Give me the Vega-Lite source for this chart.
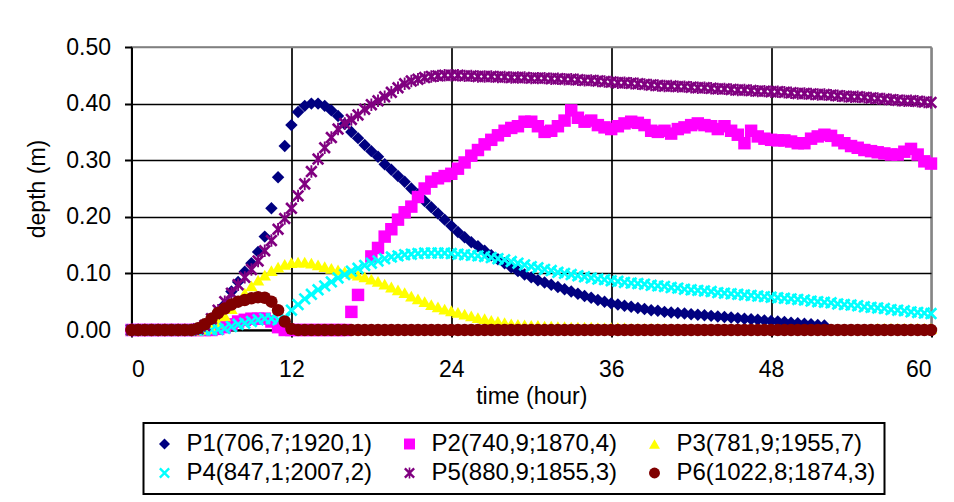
{
"$schema": "https://vega.github.io/schema/vega-lite/v6.json",
"width": 799.5, "height": 283,
"autosize": {"type": "none"},
"padding": {"left": 131.5, "top": 47, "right": 23, "bottom": 172},
"background": "white",
"config": {
 "font": "Liberation Sans",
 "view": {"stroke": "#808080", "strokeWidth": 1.5},
 "axis": {"labelFont": "Liberation Sans", "titleFont": "Liberation Sans", "labelFontSize": 23, "titleFontSize": 23, "titleFontWeight": "normal", "labelColor": "black", "titleColor": "black", "tickColor": "black", "tickWidth": 2, "tickSize": 7, "domainColor": "black", "domainWidth": 2, "gridWidth": 1.7, "gridOpacity": 1},
 "legend": {"orient": "none", "direction": "horizontal", "legendX": 12, "legendY": 376, "columns": 3, "labelFont": "Liberation Sans", "labelFontSize": 24, "labelColor": "black", "symbolSize": 120, "symbolStrokeWidth": 0, "strokeColor": "black", "strokeWidth": 2, "padding": 9, "rowPadding": 5, "columnPadding": 25, "labelOffset": 10, "labelLimit": 400, "fillColor": "white"}
},
"datasets": {"names": [
 {"k": "P1", "name": "P1(706,7;1920,1)"},
 {"k": "P2", "name": "P2(740,9;1870,4)"},
 {"k": "P3", "name": "P3(781,9;1955,7)"},
 {"k": "P4", "name": "P4(847,1;2007,2)"},
 {"k": "P5", "name": "P5(880,9;1855,3)"},
 {"k": "P6", "name": "P6(1022,8;1874,3)"}
]},
"data": {"values": [
{"t":0,"P1":0,"P2":0,"P3":0,"P4":0,"P5":0,"P6":0},
{"t":0.5,"P1":0,"P2":0,"P3":0,"P4":0,"P5":0,"P6":0},
{"t":1,"P1":0,"P2":0,"P3":0,"P4":0,"P5":0,"P6":0},
{"t":1.5,"P1":0,"P2":0,"P3":0,"P4":0,"P5":0,"P6":0},
{"t":2,"P1":0,"P2":0,"P3":0,"P4":0,"P5":0,"P6":0},
{"t":2.5,"P1":0,"P2":0,"P3":0,"P4":0,"P5":0,"P6":0},
{"t":3,"P1":0,"P2":0,"P3":0,"P4":0,"P5":0,"P6":0},
{"t":3.5,"P1":0,"P2":0,"P3":0,"P4":0,"P5":0,"P6":0},
{"t":4,"P1":0,"P2":0,"P3":0,"P4":0,"P5":0,"P6":0},
{"t":4.5,"P1":0,"P2":0,"P3":0,"P4":0,"P5":0,"P6":0},
{"t":5,"P1":0,"P2":0,"P3":0,"P4":0,"P5":0.002,"P6":0.003},
{"t":5.5,"P1":0.003,"P2":0,"P3":0.001,"P4":0,"P5":0.008,"P6":0.01},
{"t":6,"P1":0.01,"P2":0,"P3":0.003,"P4":0,"P5":0.02,"P6":0.02},
{"t":6.5,"P1":0.025,"P2":0.002,"P3":0.012,"P4":0.001,"P5":0.035,"P6":0.03},
{"t":7,"P1":0.045,"P2":0.005,"P3":0.025,"P4":0.003,"P5":0.05,"P6":0.038},
{"t":7.5,"P1":0.068,"P2":0.01,"P3":0.038,"P4":0.006,"P5":0.065,"P6":0.045},
{"t":8,"P1":0.085,"P2":0.015,"P3":0.052,"P4":0.01,"P5":0.08,"P6":0.05},
{"t":8.5,"P1":0.103,"P2":0.018,"P3":0.065,"P4":0.012,"P5":0.093,"P6":0.053},
{"t":9,"P1":0.118,"P2":0.02,"P3":0.078,"P4":0.015,"P5":0.107,"P6":0.056},
{"t":9.5,"P1":0.138,"P2":0.02,"P3":0.088,"P4":0.018,"P5":0.122,"P6":0.058},
{"t":10,"P1":0.165,"P2":0.02,"P3":0.097,"P4":0.02,"P5":0.14,"P6":0.057},
{"t":10.5,"P1":0.215,"P2":0.015,"P3":0.105,"P4":0.02,"P5":0.158,"P6":0.05},
{"t":11,"P1":0.27,"P2":0.005,"P3":0.111,"P4":0.018,"P5":0.178,"P6":0.035},
{"t":11.5,"P1":0.325,"P2":0,"P3":0.116,"P4":0.02,"P5":0.197,"P6":0.015},
{"t":12,"P1":0.362,"P2":0,"P3":0.119,"P4":0.035,"P5":0.215,"P6":0.002},
{"t":12.5,"P1":0.385,"P2":0,"P3":0.12,"P4":0.045,"P5":0.237,"P6":0},
{"t":13,"P1":0.396,"P2":0,"P3":0.12,"P4":0.055,"P5":0.258,"P6":0},
{"t":13.5,"P1":0.4,"P2":0,"P3":0.118,"P4":0.063,"P5":0.28,"P6":0},
{"t":14,"P1":0.4,"P2":0,"P3":0.115,"P4":0.071,"P5":0.302,"P6":0},
{"t":14.5,"P1":0.396,"P2":0,"P3":0.112,"P4":0.078,"P5":0.322,"P6":0},
{"t":15,"P1":0.388,"P2":0,"P3":0.109,"P4":0.085,"P5":0.34,"P6":0},
{"t":15.5,"P1":0.378,"P2":0,"P3":0.106,"P4":0.092,"P5":0.355,"P6":0},
{"t":16,"P1":0.364,"P2":0,"P3":0.103,"P4":0.098,"P5":0.365,"P6":0},
{"t":16.5,"P1":0.35,"P2":0.032,"P3":0.1,"P4":0.104,"P5":0.372,"P6":0},
{"t":17,"P1":0.339,"P2":0.062,"P3":0.097,"P4":0.109,"P5":0.38,"P6":0},
{"t":17.5,"P1":0.327,"P2":null,"P3":0.094,"P4":0.114,"P5":0.39,"P6":0},
{"t":18,"P1":0.316,"P2":0.13,"P3":0.09,"P4":0.118,"P5":0.398,"P6":0},
{"t":18.5,"P1":0.306,"P2":0.145,"P3":0.086,"P4":0.122,"P5":0.405,"P6":0},
{"t":19,"P1":0.293,"P2":0.165,"P3":0.081,"P4":0.126,"P5":0.412,"P6":0},
{"t":19.5,"P1":0.283,"P2":0.178,"P3":0.076,"P4":0.129,"P5":0.42,"P6":0},
{"t":20,"P1":0.272,"P2":0.195,"P3":0.071,"P4":0.131,"P5":0.428,"P6":0},
{"t":20.5,"P1":0.262,"P2":0.208,"P3":0.066,"P4":0.133,"P5":0.435,"P6":0},
{"t":21,"P1":0.25,"P2":0.218,"P3":0.06,"P4":0.134,"P5":0.44,"P6":0},
{"t":21.5,"P1":0.24,"P2":0.235,"P3":0.055,"P4":0.135,"P5":0.443,"P6":0},
{"t":22,"P1":0.228,"P2":0.25,"P3":0.05,"P4":0.136,"P5":0.446,"P6":0},
{"t":22.5,"P1":0.217,"P2":0.262,"P3":0.045,"P4":0.136,"P5":0.448,"P6":0},
{"t":23,"P1":0.206,"P2":0.268,"P3":0.041,"P4":0.136,"P5":0.449,"P6":0},
{"t":23.5,"P1":0.195,"P2":0.272,"P3":0.037,"P4":0.136,"P5":0.45,"P6":0},
{"t":24,"P1":0.184,"P2":0.276,"P3":0.034,"P4":0.135,"P5":0.45,"P6":0},
{"t":24.5,"P1":0.173,"P2":0.285,"P3":0.031,"P4":0.134,"P5":0.45,"P6":0},
{"t":25,"P1":0.164,"P2":0.296,"P3":0.028,"P4":0.133,"P5":0.449,"P6":0},
{"t":25.5,"P1":0.155,"P2":0.308,"P3":0.025,"P4":0.132,"P5":0.449,"P6":0},
{"t":26,"P1":0.148,"P2":0.318,"P3":0.022,"P4":0.131,"P5":0.448,"P6":0},
{"t":26.5,"P1":0.14,"P2":0.328,"P3":0.02,"P4":0.13,"P5":0.448,"P6":0},
{"t":27,"P1":0.132,"P2":0.336,"P3":0.017,"P4":0.128,"P5":0.448,"P6":0},
{"t":27.5,"P1":0.125,"P2":0.344,"P3":0.015,"P4":0.126,"P5":0.447,"P6":0},
{"t":28,"P1":0.118,"P2":0.352,"P3":0.013,"P4":0.124,"P5":0.447,"P6":0},
{"t":28.5,"P1":0.111,"P2":0.357,"P3":0.011,"P4":0.121,"P5":0.446,"P6":0},
{"t":29,"P1":0.104,"P2":0.36,"P3":0.01,"P4":0.118,"P5":0.446,"P6":0},
{"t":29.5,"P1":0.098,"P2":0.368,"P3":0.009,"P4":0.115,"P5":0.446,"P6":0},
{"t":30,"P1":0.093,"P2":0.368,"P3":0.008,"P4":0.112,"P5":0.445,"P6":0},
{"t":30.5,"P1":0.088,"P2":0.36,"P3":0.008,"P4":0.11,"P5":0.445,"P6":0},
{"t":31,"P1":0.084,"P2":0.35,"P3":0.007,"P4":0.107,"P5":0.445,"P6":0},
{"t":31.5,"P1":0.08,"P2":0.352,"P3":0.007,"P4":0.105,"P5":0.444,"P6":0},
{"t":32,"P1":0.076,"P2":0.36,"P3":0.006,"P4":0.102,"P5":0.444,"P6":0},
{"t":32.5,"P1":0.072,"P2":0.37,"P3":0.006,"P4":0.1,"P5":0.443,"P6":0},
{"t":33,"P1":0.068,"P2":0.388,"P3":0.005,"P4":0.098,"P5":0.443,"P6":0},
{"t":33.5,"P1":0.064,"P2":0.375,"P3":0.005,"P4":0.096,"P5":0.442,"P6":0},
{"t":34,"P1":0.06,"P2":0.368,"P3":0.005,"P4":0.094,"P5":0.441,"P6":0},
{"t":34.5,"P1":0.057,"P2":0.37,"P3":0.005,"P4":0.092,"P5":0.441,"P6":0},
{"t":35,"P1":0.053,"P2":0.362,"P3":0.004,"P4":0.09,"P5":0.44,"P6":0},
{"t":35.5,"P1":0.05,"P2":0.358,"P3":0.004,"P4":0.089,"P5":0.439,"P6":0},
{"t":36,"P1":0.047,"P2":0.355,"P3":0.004,"P4":0.087,"P5":0.438,"P6":0},
{"t":36.5,"P1":0.045,"P2":0.36,"P3":0.004,"P4":0.086,"P5":0.437,"P6":0},
{"t":37,"P1":0.043,"P2":0.365,"P3":0.004,"P4":0.084,"P5":0.437,"P6":0},
{"t":37.5,"P1":0.041,"P2":0.368,"P3":0.003,"P4":0.083,"P5":0.436,"P6":0},
{"t":38,"P1":0.039,"P2":0.366,"P3":0.003,"P4":0.082,"P5":0.435,"P6":0},
{"t":38.5,"P1":0.037,"P2":0.362,"P3":0.003,"P4":0.081,"P5":0.434,"P6":0},
{"t":39,"P1":0.035,"P2":0.352,"P3":0.003,"P4":0.079,"P5":0.433,"P6":0},
{"t":39.5,"P1":0.034,"P2":0.35,"P3":0.003,"P4":0.078,"P5":0.432,"P6":0},
{"t":40,"P1":0.032,"P2":0.352,"P3":0.003,"P4":0.077,"P5":0.431,"P6":0},
{"t":40.5,"P1":0.031,"P2":0.347,"P3":0.002,"P4":0.075,"P5":0.431,"P6":0},
{"t":41,"P1":0.03,"P2":0.355,"P3":0.002,"P4":0.074,"P5":0.43,"P6":0},
{"t":41.5,"P1":0.029,"P2":0.358,"P3":0.002,"P4":0.072,"P5":0.43,"P6":0},
{"t":42,"P1":0.028,"P2":0.362,"P3":0.002,"P4":0.071,"P5":0.429,"P6":0},
{"t":42.5,"P1":0.027,"P2":0.365,"P3":0.001,"P4":0.07,"P5":0.428,"P6":0},
{"t":43,"P1":0.026,"P2":0.362,"P3":0.001,"P4":0.069,"P5":0.428,"P6":0},
{"t":43.5,"P1":0.025,"P2":0.36,"P3":0.001,"P4":0.068,"P5":0.427,"P6":0},
{"t":44,"P1":0.024,"P2":0.355,"P3":0.001,"P4":0.066,"P5":0.426,"P6":0},
{"t":44.5,"P1":0.023,"P2":0.36,"P3":0.001,"P4":0.065,"P5":0.426,"P6":0},
{"t":45,"P1":0.022,"P2":0.352,"P3":0.001,"P4":0.064,"P5":0.425,"P6":0},
{"t":45.5,"P1":0.021,"P2":0.345,"P3":0.001,"P4":0.063,"P5":0.424,"P6":0},
{"t":46,"P1":0.02,"P2":0.33,"P3":0.001,"P4":0.062,"P5":0.424,"P6":0},
{"t":46.5,"P1":0.019,"P2":0.352,"P3":0.001,"P4":0.061,"P5":0.423,"P6":0},
{"t":47,"P1":0.018,"P2":0.342,"P3":0.001,"P4":0.06,"P5":0.422,"P6":0},
{"t":47.5,"P1":0.017,"P2":0.338,"P3":0.001,"P4":0.059,"P5":0.422,"P6":0},
{"t":48,"P1":0.016,"P2":0.336,"P3":0.001,"P4":0.058,"P5":0.421,"P6":0},
{"t":48.5,"P1":0.015,"P2":0.335,"P3":0.001,"P4":0.057,"P5":0.421,"P6":0},
{"t":49,"P1":0.014,"P2":0.335,"P3":0.001,"P4":0.056,"P5":0.42,"P6":0},
{"t":49.5,"P1":0.013,"P2":0.333,"P3":0.001,"P4":0.055,"P5":0.419,"P6":0},
{"t":50,"P1":0.012,"P2":0.33,"P3":0.001,"P4":0.054,"P5":0.418,"P6":0},
{"t":50.5,"P1":0.011,"P2":0.33,"P3":0.001,"P4":0.053,"P5":0.418,"P6":0},
{"t":51,"P1":0.01,"P2":0.338,"P3":0.001,"P4":0.051,"P5":0.417,"P6":0},
{"t":51.5,"P1":0.009,"P2":0.342,"P3":0.001,"P4":0.05,"P5":0.416,"P6":0},
{"t":52,"P1":0.008,"P2":0.345,"P3":0.001,"P4":0.049,"P5":0.416,"P6":0},
{"t":52.5,"P1":null,"P2":0.343,"P3":0.001,"P4":0.048,"P5":0.415,"P6":0},
{"t":53,"P1":null,"P2":0.335,"P3":0.001,"P4":0.046,"P5":0.414,"P6":0},
{"t":53.5,"P1":null,"P2":0.33,"P3":0.001,"P4":0.045,"P5":0.413,"P6":0},
{"t":54,"P1":null,"P2":0.325,"P3":0.001,"P4":0.044,"P5":0.412,"P6":0},
{"t":54.5,"P1":null,"P2":0.322,"P3":0.001,"P4":0.043,"P5":0.412,"P6":0},
{"t":55,"P1":null,"P2":0.318,"P3":0.001,"P4":0.041,"P5":0.411,"P6":0},
{"t":55.5,"P1":null,"P2":0.316,"P3":0.002,"P4":0.04,"P5":0.41,"P6":0},
{"t":56,"P1":null,"P2":0.314,"P3":0.003,"P4":0.039,"P5":0.409,"P6":0},
{"t":56.5,"P1":null,"P2":0.312,"P3":0.003,"P4":0.038,"P5":0.408,"P6":0},
{"t":57,"P1":null,"P2":0.31,"P3":0.003,"P4":0.036,"P5":0.407,"P6":0},
{"t":57.5,"P1":null,"P2":0.31,"P3":0.003,"P4":0.035,"P5":0.406,"P6":0},
{"t":58,"P1":null,"P2":0.315,"P3":0.003,"P4":0.034,"P5":0.405,"P6":0},
{"t":58.5,"P1":null,"P2":0.32,"P3":0.003,"P4":0.032,"P5":0.405,"P6":0},
{"t":59,"P1":null,"P2":0.31,"P3":0.003,"P4":0.031,"P5":0.404,"P6":0},
{"t":59.5,"P1":null,"P2":0.298,"P3":0.003,"P4":0.03,"P5":0.403,"P6":0},
{"t":60,"P1":null,"P2":0.294,"P3":0.003,"P4":0.029,"P5":0.402,"P6":0}
]},
"transform": [
 {"fold": ["P1", "P2", "P3", "P4", "P5", "P6"], "as": ["k", "d"]},
 {"filter": "datum.d != null"},
 {"lookup": "k", "from": {"data": {"name": "names"}, "key": "k", "fields": ["name"]}}
],
"mark": {"type": "point", "filled": true, "opacity": 1, "size": 155, "strokeWidth": 0},
"encoding": {
 "x": {"field": "t", "type": "quantitative", "scale": {"domain": [0, 60], "nice": false},
  "axis": {"values": [0, 12, 24, 36, 48, 60], "title": "time (hour)", "labelPadding": 21, "titlePadding": 4,
   "gridColor": {"condition": {"test": "datum.value >= 60", "value": "#808080"}, "value": "black"}}},
 "y": {"field": "d", "type": "quantitative", "scale": {"domain": [0, 0.5], "nice": false},
  "axis": {"values": [0, 0.1, 0.2, 0.3, 0.4, 0.5], "format": ".2f", "title": "depth (m)", "labelPadding": 14, "titlePadding": 16,
   "gridColor": {"condition": {"test": "datum.value >= 0.5", "value": "#808080"}, "value": "black"}}},
 "color": {"field": "name", "type": "nominal",
  "scale": {"domain": ["P1(706,7;1920,1)", "P2(740,9;1870,4)", "P3(781,9;1955,7)", "P4(847,1;2007,2)", "P5(880,9;1855,3)", "P6(1022,8;1874,3)"],
   "range": ["#000080", "#FF00FF", "#FFFF00", "#00FFFF", "#800080", "#800000"]},
  "legend": {"title": null}},
 "shape": {"field": "name", "type": "nominal",
  "scale": {"domain": ["P1(706,7;1920,1)", "P2(740,9;1870,4)", "P3(781,9;1955,7)", "P4(847,1;2007,2)", "P5(880,9;1855,3)", "P6(1022,8;1874,3)"],
   "range": ["diamond", "square", "triangle-up", "M-1,-0.7L-0.7,-1L0,-0.3L0.7,-1L1,-0.7L0.3,0L1,0.7L0.7,1L0,0.3L-0.7,1L-1,0.7L-0.3,0Z", "M-1,-0.7L-0.7,-1L0,-0.3L0.7,-1L1,-0.7L0.3,0L1,0.7L0.7,1L0,0.3L-0.7,1L-1,0.7L-0.3,0ZM-0.15,-1L0.15,-1L0.15,1L-0.15,1Z", "circle"]},
  "legend": {"title": null}},
 "order": {"field": "k"}
}
}
